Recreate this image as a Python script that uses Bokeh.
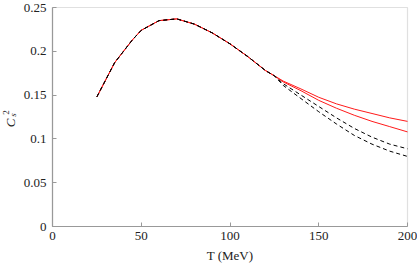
from math import pi
from bokeh.plotting import figure
from bokeh.models import (FixedTicker, CustomJSTickFormatter, Label, Range1d,
                          LinearAxis, BoxAnnotation)
from bokeh.embed import file_html
from bokeh.resources import INLINE

# Shared low-temperature part (all four curves coincide)
T_common = [25, 35, 45, 50, 60, 70, 80, 90, 100, 110, 120, 125]
cs2_common = [0.148, 0.187, 0.213, 0.224, 0.235, 0.237, 0.231, 0.221, 0.2085, 0.194, 0.178, 0.172]

# High-temperature tails
T_tail = [130, 140, 150, 160, 170, 180, 190, 200]
red_upper_tail = [0.166, 0.157, 0.1475, 0.140, 0.134, 0.129, 0.124, 0.120]
red_lower_tail = [0.165, 0.155, 0.144, 0.135, 0.127, 0.120, 0.114, 0.108]
dash_upper_tail = [0.163, 0.150, 0.137, 0.124, 0.112, 0.102, 0.094, 0.0887]
dash_lower_tail = [0.161, 0.146, 0.131, 0.117, 0.104, 0.094, 0.086, 0.080]

x_ticks = [0, 50, 100, 150, 200]
y_ticks = [0, 0.05, 0.1, 0.15, 0.2, 0.25]

T_all = T_common + T_tail

W, H = 417, 264
# plot box in canvas pixels
BOX_L, BOX_R, BOX_T, BOX_B = 52, 407, 7, 226
x0, x1 = x_ticks[0], x_ticks[-1]
y0, y1 = y_ticks[0], y_ticks[-1]
xs = (BOX_R - BOX_L) / (x1 - x0)
ys = (BOX_B - BOX_T) / (y1 - y0)
x_range = Range1d(x0 - BOX_L / xs, x1 + (W - BOX_R) / xs)
y_range = Range1d(y0 - (H - BOX_B) / ys, y1 + BOX_T / ys)

p = figure(width=W, height=H, output_backend="svg", toolbar_location=None,
           x_range=x_range, y_range=y_range,
           x_axis_location=None, y_axis_location=None,
           min_border=0, min_border_left=0, min_border_right=0,
           min_border_top=0, min_border_bottom=0)
p.grid.visible = False
p.outline_line_color = None
p.background_fill_color = "white"
p.border_fill_color = "white"

SERIF = "Liberation Serif"
GRAY = "#999999"
TXT = "#222222"

xaxis = LinearAxis(fixed_location=y0, bounds=(x0, x1), ticker=FixedTicker(ticks=x_ticks))
yaxis = LinearAxis(fixed_location=x0, bounds=(y0, y1), ticker=FixedTicker(ticks=y_ticks),
                   formatter=CustomJSTickFormatter(code="return String(Math.round(tick*100)/100);"))
for ax in (xaxis, yaxis):
    ax.axis_line_color = GRAY
    ax.axis_line_width = 1.2
    ax.major_tick_line_color = GRAY
    ax.major_tick_line_width = 1
    ax.major_tick_in = 4
    ax.major_tick_out = 0
    ax.minor_tick_line_color = None
    ax.major_label_text_font = SERIF
    ax.major_label_text_font_size = "13px"
    ax.major_label_text_color = TXT
xaxis.major_label_standoff = 5
yaxis.major_label_standoff = 6
xaxis.axis_label = "T (MeV)"
xaxis.axis_label_text_font = SERIF
xaxis.axis_label_text_font_style = "normal"
xaxis.axis_label_text_font_size = "13px"
xaxis.axis_label_text_color = TXT
xaxis.axis_label_standoff = 5
p.add_layout(xaxis, "below")
p.add_layout(yaxis, "left")

# top and right edges of the plot box
p.add_layout(BoxAnnotation(left=x0, right=x1, bottom=y0, top=y1, fill_color=None,
                           line_color=GRAY, line_width=1.2, level="underlay"))

for tail in (red_upper_tail, red_lower_tail):
    p.line(T_all, cs2_common + tail, line_color="#ff1a1a", line_width=1.0)
for tail in (dash_upper_tail, dash_lower_tail):
    p.line(T_all, cs2_common + tail, line_color="black", line_width=1.0, line_dash="4 3")

# y-axis label: C_s^2 (rotated); screen units relative to the frame (whole canvas)
def ylab(text, px, py, size, italic):
    return Label(x=px, y=H - py, x_units="screen", y_units="screen", text=text,
                 angle=pi / 2, text_align="center", text_baseline="middle",
                 text_font=SERIF, text_font_style="italic" if italic else "normal",
                 text_font_size=size, text_color=TXT)

for lab in (ylab("C", 10.0, 122.5, "13px", True),
            ylab("s", 12.0, 114.5, "9px", True),
            ylab("2", 5.5, 112.0, "9px", False)):
    p.add_layout(lab)

open("out.html", "w").write(file_html(p, INLINE))
